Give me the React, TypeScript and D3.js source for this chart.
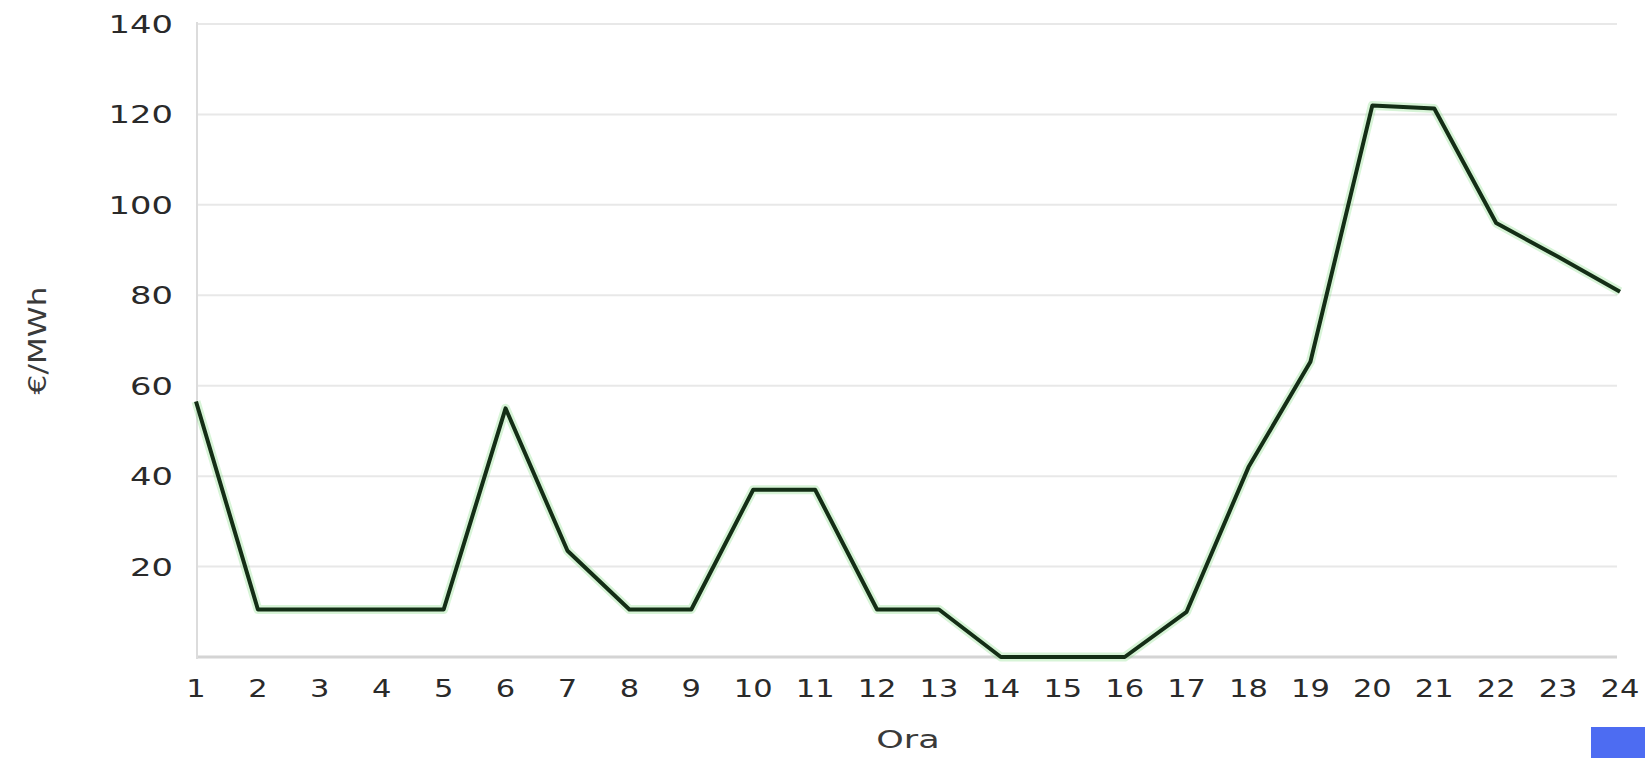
import * as d3 from 'd3';

// hourly price, €/MWh
const hours = d3.range(1, 25);
const prices = [56.5, 10.5, 10.5, 10.5, 10.5, 55, 23.5, 10.5, 10.5, 37, 37, 10.5, 10.5, 0, 0, 0, 10, 42, 65.3, 122, 121.3, 96, 88.5, 80.8];
const yTicks = [20, 40, 60, 80, 100, 120, 140];
const gridTicks = [0, 20, 40, 60, 80, 100, 120, 140];

const width = 1645;
const height = 758;
const plot = { left: 196, right: 1620, top: 24, bottom: 657 };
const font = "'DejaVu Sans', Verdana, sans-serif";

const App = () => {
  const x = d3.scaleLinear().domain([1, 24]).range([plot.left, plot.right]);
  const y = d3.scaleLinear().domain([0, 140]).range([plot.bottom, plot.top]);

  const line = d3.line<number>()
    .x((d, i) => x(hours[i]))
    .y(d => y(d));

  return (
    <svg width={width} height={height} style={{ position: 'absolute', left: 0, top: 0, background: '#fff' }}>
      {/* grid */}
      {gridTicks.map(t => (
        <line key={t} x1={plot.left} x2={plot.right - 3} y1={y(t)} y2={y(t)}
          stroke={t === 0 ? '#d4d4d4' : '#e8e8e8'} strokeWidth={t === 0 ? 3 : 2} />
      ))}
      <line x1={plot.left + 1} x2={plot.left + 1} y1={plot.top - 2} y2={plot.bottom + 2} stroke="#dcdcdc" strokeWidth={2} />

      {/* y tick labels */}
      {yTicks.map(t => (
        <text key={t} transform={`translate(173,${y(t)}) scale(1.35,1)`} textAnchor="end" dy="0.36em"
          fontFamily={font} fontSize={25} fill="#2a2a2a">{t}</text>
      ))}

      {/* x tick labels */}
      {hours.map(h => (
        <text key={h} transform={`translate(${x(h)},697) scale(1.22,1)`} textAnchor="middle"
          fontFamily={font} fontSize={25} fill="#2a2a2a">{h}</text>
      ))}

      {/* axis titles */}
      <text transform={`translate(${(plot.left + plot.right) / 2},748) scale(1.4,1)`} textAnchor="middle"
        fontFamily={font} fontSize={25} fill="#3a3a3a">Ora</text>
      <text transform={`translate(46,${(plot.top + plot.bottom) / 2}) rotate(-90) scale(1.3,1)`} textAnchor="middle"
        fontFamily={font} fontSize={24} fill="#3a3a3a">€/MWh</text>

      {/* series */}
      <path d={line(prices) ?? ''} fill="none" stroke="#5fd35f" strokeOpacity={0.25} strokeWidth={9} strokeLinejoin="round" />
      <path d={line(prices) ?? ''} fill="none" stroke="#142e16" strokeWidth={4} strokeLinejoin="round" />

      <rect x={1591} y={727} width={54} height={31} fill="#4d6cf2" />
    </svg>
  );
};

export default App;
